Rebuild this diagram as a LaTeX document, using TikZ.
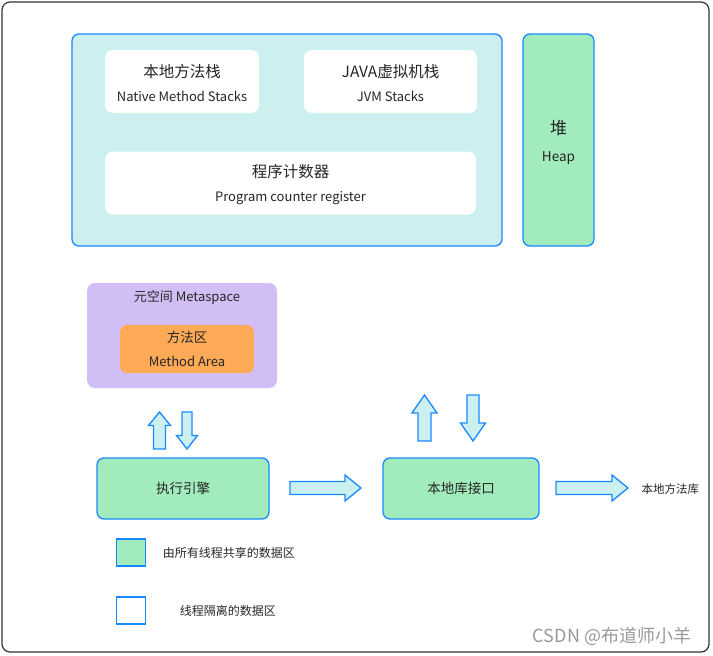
\documentclass[tikz,border=0pt]{standalone}
\usepackage{fontspec}
\setmainfont{Noto Sans CJK SC}
\usetikzlibrary{positioning}
\definecolor{jvmblue}{RGB}{24,138,255}
\definecolor{jvmcyan}{RGB}{204,239,240}
\definecolor{jvmgreen}{RGB}{161,235,188}
\definecolor{jvmpurple}{RGB}{208,190,244}
\definecolor{jvmorange}{RGB}{255,170,87}
\tikzset{
  pics/blockarrow/.style n args={4}{code={
    \draw[arrowbody] (0,-#4/2) -- (#1-#2,-#4/2) -- (#1-#2,-#3/2) -- (#1,0)
      -- (#1-#2,#3/2) -- (#1-#2,#4/2) -- (0,#4/2) -- cycle;
  }}
}
\begin{document}
\begin{tikzpicture}[x=1pt, y=-1pt, text=black!85,
  box/.style = {draw=jvmblue, line width=1.3pt, rounded corners=7pt, align=center, inner sep=0pt},
  inbox/.style = {fill=white, rounded corners=8pt, inner sep=0pt, minimum height=63},
  boxtext/.style = {align=center, inner sep=0pt, font=\fontsize{13}{24}\selectfont},
  arrowbody/.style = {draw=jvmblue, fill=jvmcyan, line width=1.3pt, line join=miter},
  keybox/.style = {draw=jvmblue, line width=1.6pt, minimum width=29, minimum height=27, inner sep=0pt},
  keytext/.style = {font=\fontsize{12}{14}\selectfont}]
  \useasboundingbox (0,0) rectangle (713,656);
  \draw[rounded corners=8pt, line width=1.2pt, draw=black!80] (2,2) rectangle (709,652);

  % thread areas
  \node[box, fill=jvmcyan, minimum width=430, minimum height=212] (threads) at (287,140) {};
  \node[inbox, minimum width=154] (native) at (182,81.5) {};
  \node[boxtext] (nativetext) at ([yshift=-1.5pt]native.center) {{\fontsize{15.5}{18}\selectfont 本地方法栈}\\Native Method Stacks};
  \node[inbox, minimum width=173] (jvmstack) at (390.5,81.5) {};
  \node[boxtext] (jvmstacktext) at ([yshift=-1.5pt]jvmstack.center) {{\fontsize{15.5}{18}\selectfont JAVA虚拟机栈}\\JVM Stacks};
  \node[inbox, minimum width=371] (pc) at (290.5,183) {};
  \node[boxtext] (pctext) at ([yshift=-1.5pt]pc.center) {{\fontsize{15.5}{18}\selectfont 程序计数器}\\Program counter register};
  \node[box, fill=jvmgreen, minimum width=71, minimum height=212] (heap) at (558.5,140) {};
  \node[boxtext, font=\fontsize{13.5}{27}\selectfont] (heaptext) at ([yshift=-2.5pt]heap.center) {{\fontsize{17}{20}\selectfont 堆}\\Heap};

  % metaspace
  \node[fill=jvmpurple, rounded corners=8pt, minimum width=190, minimum height=105] (meta) at (182,335.5) {};
  \node[font=\fontsize{13}{16}\selectfont] (metatitle) at (187,297.5) {元空间 Metaspace};
  \node[fill=jvmorange, rounded corners=7pt, minimum width=134, minimum height=48, align=center, inner sep=0pt,
        font=\fontsize{13}{24}\selectfont] (method) at (187,349) {{\fontsize{13.5}{16}\selectfont 方法区}\\Method Area};

  % engine and native interface
  \node[box, fill=jvmgreen, minimum width=172, minimum height=61, font=\fontsize{13.5}{16}\selectfont] (engine) at (183,488.5) {执行引擎};
  \node[box, fill=jvmgreen, minimum width=156, minimum height=61, font=\fontsize{13.5}{16}\selectfont] (jni) at (461,488.5) {本地库接口};
  \node[anchor=west, font=\fontsize{11.5}{14}\selectfont] (nativelib) at (638,489) {本地方法库};

  \pic[rotate=90] at (159.5,449) {blockarrow={37}{13.5}{22}{12}};
  \pic[rotate=-90] at (187,412) {blockarrow={37}{13.5}{21}{10}};
  \pic[rotate=90] at (424.5,441) {blockarrow={46}{18}{25}{13}};
  \pic[rotate=-90] at (473,395) {blockarrow={46}{18}{25}{12}};
  \pic at (290,488) {blockarrow={71}{16}{26}{13}};
  \pic at (556,488) {blockarrow={72}{16}{26}{13}};

  % legend
  \node[keybox, fill=jvmgreen] (sharedkey) at (131,552.5) {};
  \node[keytext, right=13pt of sharedkey] (sharedtext) {由所有线程共享的数据区};
  \node[keybox, fill=white] (privatekey) at (131,610.5) {};
  \node[keytext, right=30pt of privatekey] (privatetext) {线程隔离的数据区};

  \node[font=\fontsize{18}{20}\selectfont, text=black!40] (mark) at (612,636) {CSDN @布道师小羊};
\end{tikzpicture}
\end{document}
